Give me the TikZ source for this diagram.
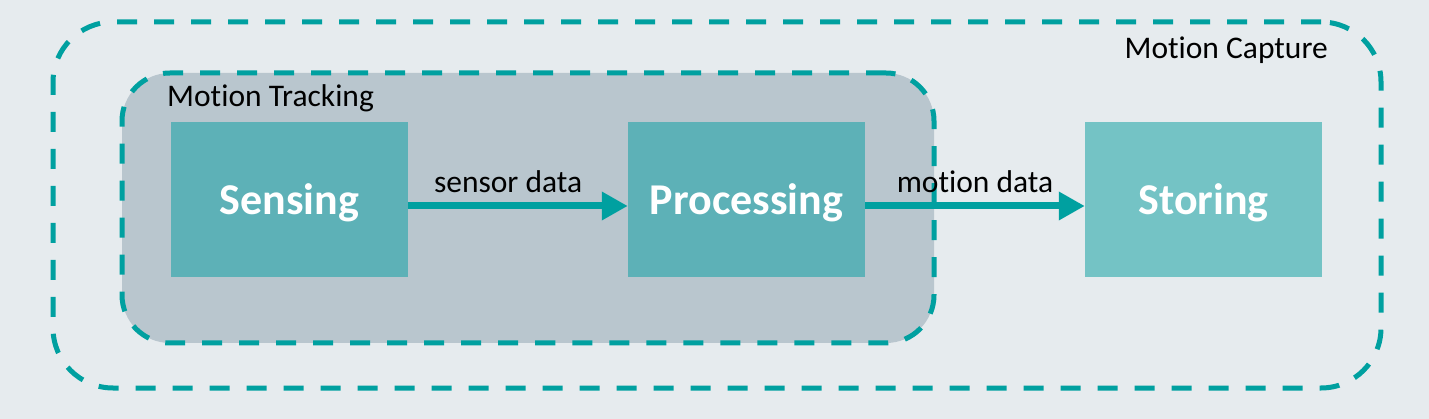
\documentclass[tikz,border=0pt]{standalone}
\usepackage{fontspec}
\setmainfont{Carlito}[Ligatures=NoCommon]
\usetikzlibrary{arrows.meta, positioning}
\definecolor{bgcanvas}{RGB}{230,235,238}
\definecolor{tealline}{RGB}{0,160,160}
\definecolor{groupgrey}{RGB}{185,198,206}
\definecolor{tealbox}{RGB}{93,177,183}
\definecolor{tealpale}{RGB}{116,195,197}

\begin{document}
\begin{tikzpicture}[x=1pt, y=-1pt,
  group/.style={draw=tealline, line width=5pt, dash pattern=on 20pt off 17pt, inner sep=0pt},
  stage/.style={fill=tealbox, minimum width=237pt, minimum height=155pt, inner sep=0pt, text depth=0.05em, text=white, font=\bfseries\fontsize{44}{48}\selectfont},
  flow/.style={-{Triangle[length=26pt, width=27pt]}, line width=7pt, draw=tealline},
  tag/.style={font=\fontsize{31.5}{35}\selectfont, inner sep=0pt}]
\useasboundingbox[fill=bgcanvas] (0,0) rectangle (1429,419);

% groups
\node[group, rounded corners=60pt, minimum width=1328pt, minimum height=366pt] (capture) at (717,205) {};
\node[group, fill=groupgrey, rounded corners=48pt, minimum width=812pt, minimum height=270pt] (tracking) at (528,208) {};
\node[tag, anchor=base east] (capturetag) at (1328,59) {Motion Capture};
\node[tag, anchor=base west] (trackingtag) at (167,107) {Motion Tracking};

% stages
\node[stage] (sense) at (289.5,199.5) {Sensing};
\node[stage] (proc) at (746.5,199.5) {Processing};
\node[stage, fill=tealpale] (store) at (1203.5,199.5) {Storing};

\draw[flow] ([yshift=-6.5pt]sense.east) -- node[tag, above=10pt, pos=0.455] (sensetag) {sensor data} ([yshift=-6.5pt]proc.west);
\draw[flow] ([yshift=-6.5pt]proc.east) -- node[tag, above=10pt] (proctag) {motion data} ([yshift=-6.5pt]store.west);
\end{tikzpicture}
\end{document}
